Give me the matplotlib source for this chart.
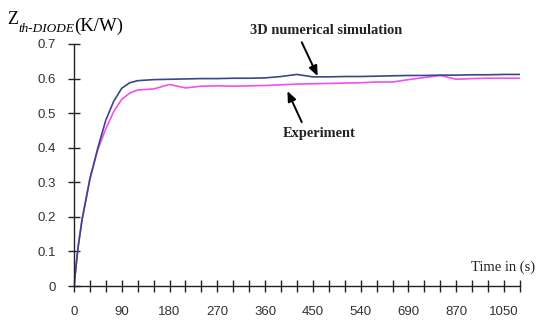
import matplotlib
matplotlib.use("Agg")
import matplotlib.pyplot as plt

# category axis: tick labels every 3 categories (non-uniform time steps)
tick_labels = ['0', '90', '180', '270', '360', '450', '540', '690', '870', '1050']
n_categories = 29

# x in category units
x_sim = [0, 0.25, 0.5, 0.75, 1, 1.5, 2, 2.5, 3, 3.5, 4, 5, 6, 7, 8, 9, 10, 11, 12,
         13, 14, 15, 16, 17, 18, 19, 20, 21, 22, 23, 24, 25, 26, 27, 28]
y_sim = [0, 0.11, 0.19, 0.25, 0.31, 0.40, 0.48, 0.535, 0.572, 0.588, 0.594, 0.597,
         0.598, 0.599, 0.600, 0.600, 0.601, 0.601, 0.602, 0.606, 0.612, 0.605, 0.605,
         0.606, 0.606, 0.607, 0.608, 0.609, 0.609, 0.610, 0.610, 0.611, 0.611, 0.612, 0.612]

x_exp = [0, 0.25, 0.5, 0.75, 1, 1.5, 2, 2.5, 3, 3.5, 4, 5, 6, 7, 8, 9, 10, 11, 12,
         13, 14, 15, 16, 17, 18, 19, 20, 21, 22, 23, 24, 25, 26, 27, 28]
y_exp = [0, 0.11, 0.19, 0.25, 0.31, 0.395, 0.455, 0.505, 0.540, 0.558, 0.567, 0.570,
         0.583, 0.573, 0.578, 0.579, 0.578, 0.579, 0.580, 0.582, 0.584, 0.585, 0.586,
         0.587, 0.588, 0.590, 0.590, 0.597, 0.603, 0.609, 0.598, 0.600, 0.601, 0.601, 0.601]

fig = plt.figure(figsize=(5.38, 3.2), dpi=100)
ax = fig.add_axes([0.1375, 0.106, 0.829, 0.7565])

ax.plot(x_exp, y_exp, color='#f050f0', linewidth=1.2)
ax.plot(x_sim, y_sim, color='#3d4589', linewidth=1.2)

ax.set_xlim(0, n_categories - 1)
ax.set_ylim(0, 0.7)

for s in ['top', 'right']:
    ax.spines[s].set_visible(False)
for s in ['left', 'bottom']:
    ax.spines[s].set_color('#222222')
    ax.spines[s].set_linewidth(1.0)

ax.set_xticks(range(n_categories))
ax.set_xticklabels([tick_labels[i // 3] if i % 3 == 0 else '' for i in range(n_categories)])
ax.set_yticks([0, 0.1, 0.2, 0.3, 0.4, 0.5, 0.6, 0.7])
ax.set_yticklabels(['0', '0.1', '0.2', '0.3', '0.4', '0.5', '0.6', '0.7'])
ax.tick_params(direction='inout', length=8, width=1.0, color='#222222',
               labelsize=9.5, labelcolor='#333333')
ax.tick_params(axis='x', pad=10)
ax.tick_params(axis='y', pad=9)
for lab in ax.get_xticklabels() + ax.get_yticklabels():
    lab.set_family('Liberation Sans')

# y-axis title: Z with italic subscript
serif = 'Liberation Serif'
t1 = fig.text(0.014, 0.925, 'Z', family=serif, fontsize=13, va='baseline')
t2 = ax.annotate('th-DIODE', xy=(1, 0), xycoords=t1, xytext=(0, -3),
                 textcoords='offset points', family=serif, style='italic',
                 fontsize=9.5, va='baseline')
ax.annotate('(K/W)', xy=(1, 0), xycoords=t2, xytext=(0, 3),
            textcoords='offset points', family=serif, fontsize=13.5, va='baseline')

ax.text(24.9, 0.055, 'Time in (s)', family=serif, fontsize=10.5, color='#222222',
        va='center', ha='left', clip_on=False)

arrow = dict(arrowstyle='-|>,head_length=0.6,head_width=0.25', color='black', lw=1.4,
             shrinkA=0, shrinkB=0)
ax.annotate('', xy=(15.3, 0.607), xytext=(14.3, 0.705), arrowprops=arrow,
            annotation_clip=False)
ax.text(15.8, 0.738, '3D numerical simulation', family=serif, fontsize=10.4,
        fontweight='bold', ha='center', va='center', color='#222222', clip_on=False)

ax.annotate('', xy=(13.4, 0.564), xytext=(14.3, 0.474), arrowprops=arrow,
            annotation_clip=False)
ax.text(15.4, 0.44, 'Experiment', family=serif, fontsize=10.4,
        fontweight='bold', ha='center', va='center', color='#222222')

fig.savefig('out.png', dpi=100)
